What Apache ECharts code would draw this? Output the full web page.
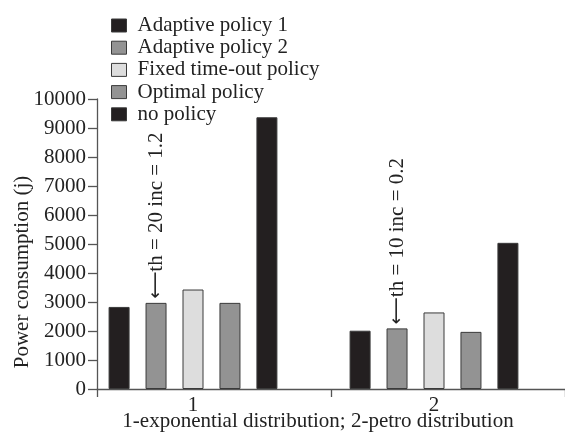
<!DOCTYPE html>
<html>
<head>
<meta charset="utf-8">
<script src="https://cdn.jsdelivr.net/npm/echarts@6/dist/echarts.min.js"></script>
<style>html,body{margin:0;padding:0;background:#fff;}#c{width:565px;height:433px;}</style>
</head>
<body>
<div id="c"></div>
<script>
var categories = ['1', '2'];
var seriesNames = ['Adaptive policy 1', 'Adaptive policy 2', 'Fixed time-out policy', 'Optimal policy', 'no policy'];
var adaptive1 = [2830, 2010];
var adaptive2 = [2970, 2090];
var fixedTimeout = [3430, 2640];
var optimal = [2970, 1970];
var noPolicy = [9370, 5040];
var annotations = ['th = 20 inc = 1.2', 'th = 10 inc = 0.2'];
var yTicks = [0, 1000, 2000, 3000, 4000, 5000, 6000, 7000, 8000, 9000, 10000];
var xTitle = '1-exponential distribution; 2-petro distribution';
var yTitle = 'Power consumption (j)';

var FONT = 'Liberation Serif';
var dark = '#231f20', mid = '#939393', light = '#dddddd';
var colors = [dark, mid, light, mid, dark];
var values = [adaptive1, adaptive2, fixedTimeout, optimal, noPolicy];

var chart = echarts.init(document.getElementById('c'), null, {renderer: 'canvas'});

var series = values.map(function (arr, i) {
  var s = {
    name: seriesNames[i],
    type: 'bar',
    xAxisIndex: 0,
    yAxisIndex: 0,
    barWidth: 21,
    barGap: '76%',
    itemStyle: {color: colors[i], borderColor: '#3a3a3a', borderWidth: 1},
    emphasis: {disabled: true},
    data: arr.slice()
  };
  if (i === 1) {
    s.data = arr.map(function (v, k) {
      return {
        value: v,
        label: {
          show: true,
          formatter: '{a|\u27F5}{t|' + annotations[k] + '}',
          position: 'top',
          distance: 4,
          rotate: 90,
          align: 'left',
          verticalAlign: 'middle',
          rich: {
            a: {fontFamily: 'DejaVu Sans', fontSize: 19, color: '#222', padding: [0, 0, 0, 0]},
            t: {fontFamily: FONT, fontSize: 21, color: '#222'}
          }
        }
      };
    });
  }
  return s;
});

var option = {
  animation: false,
  backgroundColor: '#fff',
  textStyle: {fontFamily: FONT},
  legend: {
    orient: 'vertical',
    left: 106,
    top: 10,
    icon: 'rect',
    itemWidth: 15,
    itemHeight: 13,
    itemGap: 1.2,
    selectedMode: false,
    data: seriesNames.map(function (n, i) {
      return {name: n, itemStyle: {color: colors[i], borderColor: '#3a3a3a', borderWidth: 1}};
    }),
    textStyle: {fontFamily: FONT, fontSize: 21, color: '#222', lineHeight: 20, padding: [0, 0, 0, 6]}
  },
  grid: [
    {left: 72.5, right: 10.5, top: 99, height: 290},
    {left: 97, right: -12, top: 99, height: 290}
  ],
  xAxis: [
    {
      type: 'category', gridIndex: 0, data: categories,
      axisLine: {show: false}, axisTick: {show: false},
      axisLabel: {fontFamily: FONT, fontSize: 21, color: '#222', margin: 6}
    },
    {
      type: 'category', gridIndex: 1, data: categories,
      axisLine: {show: true, lineStyle: {color: '#555', width: 1.3}},
      axisTick: {show: true, length: 8, lineStyle: {color: '#555', width: 1.3}},
      axisLabel: {show: false}
    }
  ],
  yAxis: [
    {type: 'value', gridIndex: 0, min: yTicks[0], max: yTicks[yTicks.length - 1], interval: 1000, show: false},
    {
      type: 'value', gridIndex: 1, min: yTicks[0], max: yTicks[yTicks.length - 1], interval: yTicks[1] - yTicks[0],
      axisLine: {show: true, lineStyle: {color: '#555', width: 1.3}},
      axisTick: {show: true, length: 9, lineStyle: {color: '#555', width: 1.3}},
      splitLine: {show: false},
      axisLabel: {fontFamily: FONT, fontSize: 21, color: '#222', margin: 11,
        formatter: function (v) { return String(v); }}
    }
  ],
  graphic: [
    {type: 'text', x: 22, y: 272, rotation: Math.PI / 2,
     style: {text: yTitle, font: '21px "Liberation Serif"', fill: '#222', align: 'center', verticalAlign: 'middle'}},
    {type: 'text', x: 318, y: 421,
     style: {text: xTitle, font: '21px "Liberation Serif"', fill: '#222', align: 'center', verticalAlign: 'middle'}}
  ],
  series: series
};
chart.setOption(option);
</script>
</body>
</html>
